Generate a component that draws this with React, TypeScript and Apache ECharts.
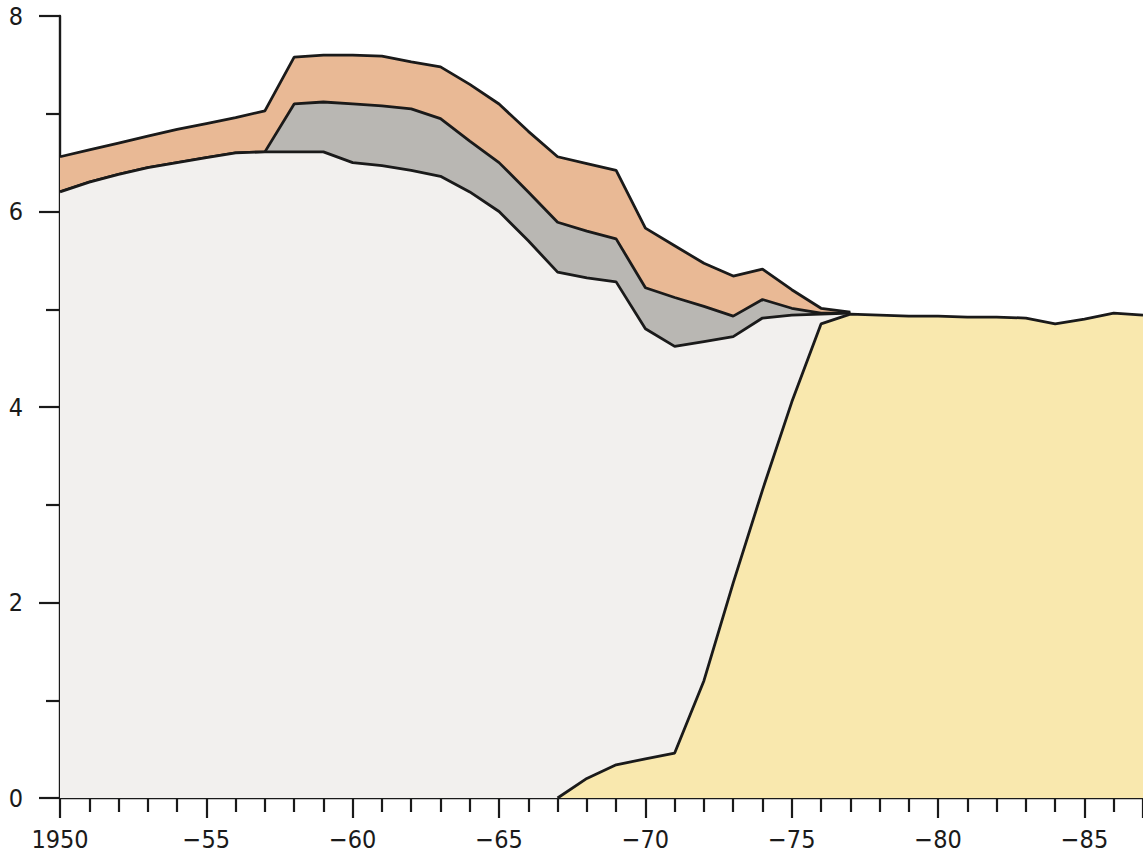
import React, { useEffect, useRef } from "react";
import * as echarts from "echarts";

const years = [
  1950, 1951, 1952, 1953, 1954, 1955, 1956, 1957, 1958, 1959,
  1960, 1961, 1962, 1963, 1964, 1965, 1966, 1967, 1968, 1969,
  1970, 1971, 1972, 1973, 1974, 1975, 1976, 1977,
];
// bottom (light) layer
const baseLayer = [
  6.2, 6.3, 6.38, 6.45, 6.5, 6.55, 6.6, 6.61, 6.61, 6.61,
  6.5, 6.47, 6.42, 6.36, 6.2, 6.0, 5.7, 5.38, 5.32, 5.28,
  4.8, 4.62, 4.67, 4.72, 4.91, 4.94, 4.95, 4.96,
];
// grey layer (thickness, stacked on the bottom layer)
const greyLayer = [
  0, 0, 0, 0, 0, 0, 0, 0, 0.49, 0.51,
  0.6, 0.61, 0.63, 0.59, 0.52, 0.5, 0.5, 0.51, 0.48, 0.44,
  0.42, 0.5, 0.36, 0.21, 0.19, 0.07, 0.01, 0,
];
// orange layer (thickness, stacked on the grey layer)
const orangeLayer = [
  0.36, 0.33, 0.32, 0.32, 0.34, 0.35, 0.36, 0.42, 0.48, 0.48,
  0.5, 0.51, 0.48, 0.53, 0.58, 0.6, 0.62, 0.67, 0.69, 0.7,
  0.61, 0.53, 0.44, 0.41, 0.31, 0.19, 0.05, 0.01,
];
// yellow area
const yellowYears = [
  1967, 1968, 1969, 1970, 1971, 1972, 1973, 1974, 1975, 1976,
  1977, 1978, 1979, 1980, 1981, 1982, 1983, 1984, 1985, 1986, 1987,
];
const yellowValues = [
  0, 0.2, 0.34, 0.4, 0.46, 1.2, 2.2, 3.15, 4.05, 4.85,
  4.95, 4.94, 4.93, 4.93, 4.92, 4.92, 4.91, 4.85, 4.9, 4.96, 4.94,
];
const yTickLabels = ["0", "2", "4", "6", "8"];

const FONT = "'Liberation Sans Narrow', 'DejaVu Sans Condensed', 'Roboto', sans-serif";
const INK = "#1a1a1a";

export default function App() {
  const ref = useRef<HTMLDivElement>(null);
  useEffect(() => {
    if (!ref.current) return;
    const chart = echarts.init(ref.current, null, { renderer: "svg" });
    // cumulative tops of the stacked layers
    const greyTop = baseLayer.map((v, i) => v + greyLayer[i]);
    const orangeTop = greyTop.map((v, i) => v + orangeLayer[i]);
    const pair = (xs: number[], vs: number[]) => xs.map((x, i) => [x, +vs[i].toFixed(3)]);
    const lineStyle = { color: INK, width: 2.8 };
    const area = (data: number[][], color: string, z: number) => ({
      type: "line",
      data,
      showSymbol: false,
      lineStyle,
      areaStyle: { color, opacity: 1 },
      z,
    });
    chart.setOption({
      animation: false,
      backgroundColor: "#ffffff",
      grid: { left: 60, top: 16, height: 782, width: 1085 },
      xAxis: {
        type: "value",
        min: 1950,
        max: 1987,
        interval: 5,
        splitLine: { show: false },
        axisLine: { show: true, lineStyle: { color: INK, width: 2.4 } },
        axisTick: { show: true, length: 20, lineStyle: { color: INK, width: 2.2 } },
        minorTick: { show: true, splitNumber: 5, length: 14, lineStyle: { color: INK, width: 2.2 } },
        axisLabel: {
          margin: 29,
          fontSize: 25,
          lineHeight: 24,
          fontFamily: FONT,
          color: INK,
          showMaxLabel: false,
          formatter: (v: number) =>
            v % 5 !== 0 ? "" : v === 1950 ? "1950" : "\u2212" + String(v - 1900),
        },
      },
      yAxis: {
        type: "value",
        min: 0,
        max: 8,
        interval: 2,
        splitLine: { show: false },
        axisLine: { show: true, lineStyle: { color: INK, width: 2.4 } },
        axisTick: { show: true, length: 21, lineStyle: { color: INK, width: 2.2 } },
        minorTick: { show: true, splitNumber: 2, length: 14, lineStyle: { color: INK, width: 2.2 } },
        axisLabel: {
          margin: 37,
          fontSize: 25,
          lineHeight: 24,
          fontFamily: FONT,
          color: INK,
          formatter: (v: number) => yTickLabels[Math.round(v / 2)] ?? "",
        },
      },
      series: [
        area(pair(years, orangeTop), "#e9b995", 2),
        area(pair(years, greyTop), "#b9b7b3", 3),
        area(pair(years, baseLayer), "#f2f0ee", 4),
        area(pair(yellowYears, yellowValues), "#f9e8ae", 5),
      ],
    });
    return () => chart.dispose();
  }, []);
  return (
    <div
      ref={ref}
      style={{ position: "fixed", left: 0, top: 0, width: 1143, height: 854, background: "#fff" }}
    />
  );
}
